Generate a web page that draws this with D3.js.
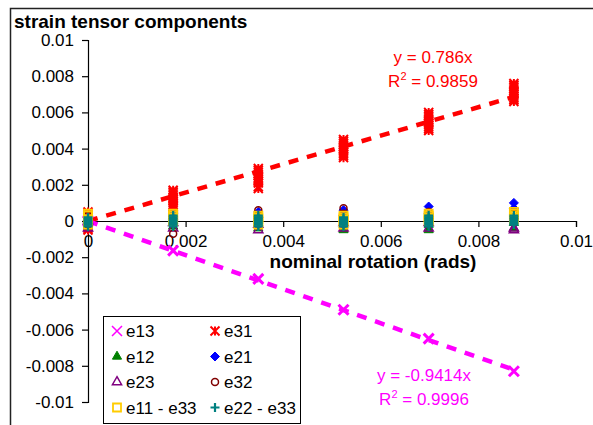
<!DOCTYPE html>
<html>
<head>
<meta charset="utf-8">
<script src="https://cdn.jsdelivr.net/npm/d3@7"></script>
<style>
  body { margin: 0; background: #fff; }
  text { font-family: "Liberation Sans", Arial, sans-serif; }
</style>
</head>
<body>
<div id="viz"></div>
<script>
// nominal rotations (rads)
const rotations = [0, 0.001745, 0.00349, 0.005236, 0.006981, 0.008727];

// measured values, one list per rotation
const e13 = [[0.0], [-0.00164], [-0.0032], [-0.0049], [-0.0065], [-0.0083]];
const e31 = [
  [0.0005, 0.0004, 0.0003, 0.0001, 0.0, -0.0001, -0.0003, -0.0004, -0.0005, 0.0002, -0.0002],
  [0.0017, 0.0016, 0.0015, 0.0013, 0.0012, 0.0011, 0.0010, 0.0009, 0.0008, 0.0014, 0.0007],
  [0.0029, 0.0028, 0.0027, 0.0026, 0.0024, 0.0023, 0.0022, 0.0021, 0.0019, 0.0018, 0.0025],
  [0.0044, 0.0043, 0.0042, 0.0041, 0.0040, 0.0039, 0.0038, 0.0037, 0.0036, 0.0035, 0.0045],
  [0.0059, 0.0058, 0.0057, 0.0056, 0.0055, 0.0054, 0.0053, 0.0052, 0.0051, 0.0050, 0.0060],
  [0.0076, 0.0075, 0.0074, 0.0073, 0.0072, 0.0071, 0.0070, 0.0069, 0.0068, 0.0067, 0.0066]
];
const e12 = [[-0.0003, 0.0001], [-0.0003, 0.0], [-0.0004, -0.0001], [-0.0005, -0.0002], [-0.0005, -0.0002], [-0.0004, -0.0001]];
const e21 = [[0.0002, -0.0001], [0.0004, 0.0001], [0.0005, 0.0002], [0.0006, 0.0003], [0.0008, 0.0004], [0.0010, 0.0007]];
const e23 = [[-0.0004, 0.0], [-0.0004, -0.0001], [-0.0005, -0.0002], [-0.0004, -0.0001], [-0.0004, -0.0001], [-0.0005, -0.0004]];
const e32 = [[0.0003, -0.0002], [-0.0007, 0.0002], [0.0006, 0.0003], [0.0007, 0.0004], [0.0005, 0.0002], [0.0004, 0.0001]];
const e11_e33 = [
  [0.0004, 0.0003, 0.0001, 0.0, -0.0002],
  [0.0004, 0.0003, 0.0002, 0.0001, 0.0],
  [0.0003, 0.0002, 0.0001, 0.0, -0.0002],
  [0.0003, 0.0002, 0.0001, 0.0, -0.0002],
  [0.0004, 0.0003, 0.0002, 0.0001, 0.0],
  [0.0005, 0.0004, 0.0003, 0.0002, 0.0001]
];
const e22_e33 = [
  [0.0002, 0.0001, 0.0, -0.0001, -0.0002, -0.0003],
  [0.0003, 0.0002, 0.0001, 0.0, -0.0001, -0.0002, -0.0003],
  [0.0003, 0.0002, 0.0001, 0.0, -0.0001, -0.0002, -0.0003],
  [0.0002, 0.0001, 0.0, -0.0001, -0.0002, -0.0003],
  [0.0003, 0.0002, 0.0001, 0.0, -0.0001, -0.0002, -0.0003],
  [0.0003, 0.0002, 0.0001, 0.0, -0.0001, -0.0002]
];

// linear trendlines (through origin)
const trendSlopes = {e31: 0.786, e13: -0.9414};
const trendR2 = {e31: 0.9859, e13: 0.9996};

const xTicks = [0, 0.002, 0.004, 0.006, 0.008, 0.01];
const xTickLabels = ["0", "0.002", "0.004", "0.006", "0.008", "0.01"];
const yTicks = [0.01, 0.008, 0.006, 0.004, 0.002, 0, -0.002, -0.004, -0.006, -0.008, -0.01];
const yTickLabels = ["0.01", "0.008", "0.006", "0.004", "0.002", "0", "-0.002", "-0.004", "-0.006", "-0.008", "-0.01"];

const width = 593, height = 425;

const x = d3.scaleLinear().domain([0, 0.01]).range([88, 576]);
const y = d3.scaleLinear().domain([-0.01, 0.01]).range([402, 40]);

const svg = d3.select("#viz").append("svg")
    .attr("width", width)
    .attr("height", height);

// chart frame (cropped on right and bottom)
svg.append("path")
    .attr("d", "M10.5,425 V8.5 H593")
    .attr("fill", "none")
    .attr("stroke", "#222")
    .attr("stroke-width", 1.5);

svg.append("text")
    .attr("x", 14).attr("y", 28)
    .attr("font-size", 19).attr("font-weight", "bold")
    .text("strain tensor components");

// axes
const yAxis = d3.axisLeft(y).tickValues(yTicks).tickSize(6)
    .tickFormat((d, i) => yTickLabels[i]);
const gy = svg.append("g").attr("transform", `translate(${x(0)},0)`).call(yAxis);
gy.selectAll("text").attr("font-size", 17).attr("fill", "#000").attr("x", -14);

const xAxis = d3.axisBottom(x).tickValues(xTicks).tickSize(6)
    .tickFormat((d, i) => xTickLabels[i]);
const gx = svg.append("g").attr("transform", `translate(0,${y(0)})`).call(xAxis);
gx.selectAll("text").attr("font-size", 17).attr("fill", "#000").attr("y", 14);

[gx, gy].forEach(g => {
  g.select(".domain").attr("stroke", "#000").attr("stroke-width", 1.2);
  g.selectAll(".tick line").attr("stroke", "#000").attr("stroke-width", 1.2);
});

svg.append("text")
    .attr("x", 373).attr("y", 268)
    .attr("text-anchor", "middle")
    .attr("font-size", 19).attr("font-weight", "bold")
    .text("nominal rotation (rads)");

// marker shapes
function markerPath(shape, s) {
  const h = s / 2;
  switch (shape) {
    case "x": return `M${-h},${-h}L${h},${h}M${-h},${h}L${h},${-h}`;
    case "star": return `M${-h},${-h}L${h},${h}M${-h},${h}L${h},${-h}M0,${-h}L0,${h}`;
    case "plus": return `M${-h},0L${h},0M0,${-h}L0,${h}`;
    case "triangle": return d3.symbol(d3.symbolTriangle, s * s * 0.45)();
    case "diamond": return `M0,${-h}L${h},0L0,${h}L${-h},0Z`;
    case "circle": return d3.symbol(d3.symbolCircle, s * s * 0.6)();
    case "square": return `M${-h},${-h}H${h}V${h}H${-h}Z`;
  }
}

const series = [
  {name: "e13", values: e13, color: "#ff00ff", shape: "x", fill: false, size: 10, sw: 3},
  {name: "e31", values: e31, color: "#ff0000", shape: "star", fill: false, size: 9, sw: 2},
  {name: "e12", values: e12, color: "#008000", shape: "triangle", fill: true, size: 9, sw: 1},
  {name: "e21", values: e21, color: "#0000ff", shape: "diamond", fill: true, size: 9, sw: 1},
  {name: "e23", values: e23, color: "#800080", shape: "triangle", fill: false, size: 9, sw: 1.5},
  {name: "e32", values: e32, color: "#800000", shape: "circle", fill: false, size: 8, sw: 1.5},
  {name: "e11 - e33", values: e11_e33, color: "#ffcc00", shape: "square", fill: false, size: 8, sw: 1.8},
  {name: "e22 - e33", values: e22_e33, color: "#008080", shape: "plus", fill: false, size: 9, sw: 2.2}
];

// trendlines
[["e31", "#ff0000"], ["e13", "#ff00ff"]].forEach(([k, c]) => {
  const xs = [0, d3.max(rotations)];
  svg.append("line")
      .attr("x1", x(xs[0])).attr("y1", y(trendSlopes[k] * xs[0]))
      .attr("x2", x(xs[1])).attr("y2", y(trendSlopes[k] * xs[1]))
      .attr("stroke", c).attr("stroke-width", 4.5)
      .attr("stroke-dasharray", "10,9");
});

// points
series.forEach(s => {
  const pts = [];
  s.values.forEach((vals, i) => vals.forEach(v => pts.push([rotations[i], v])));
  svg.append("g").selectAll("path")
    .data(pts)
    .enter().append("path")
      .attr("transform", d => `translate(${x(d[0])},${y(d[1])})`)
      .attr("d", markerPath(s.shape, s.size))
      .attr("fill", s.fill ? s.color : "none")
      .attr("stroke", s.color)
      .attr("stroke-width", s.sw);
});

// trendline labels
function eqLabel(cx, yb, color, eq, r2) {
  const g = svg.append("g").attr("fill", color).attr("font-size", 17);
  g.append("text").attr("x", cx).attr("y", yb).attr("text-anchor", "middle").text(eq);
  const t = g.append("text").attr("x", cx).attr("y", yb + 24).attr("text-anchor", "middle");
  t.append("tspan").text("R");
  t.append("tspan").attr("font-size", 11).attr("dy", -7).text("2");
  t.append("tspan").attr("dy", 7).text(" = " + r2);
}
eqLabel(433, 63, "#ff0000", `y = ${trendSlopes.e31}x`, trendR2.e31);
eqLabel(424, 381, "#ff00ff", `y = ${trendSlopes.e13}x`, trendR2.e13);

// legend
const legend = svg.append("g");
legend.append("rect")
    .attr("x", 103.5).attr("y", 316.5)
    .attr("width", 197).attr("height", 107)
    .attr("fill", "#fff").attr("stroke", "#000").attr("stroke-width", 1);

series.forEach((s, i) => {
  const col = i % 2, row = Math.floor(i / 2);
  const lx = 117 + col * 98, ly = 331 + row * 25.5;
  legend.append("path")
      .attr("transform", `translate(${lx},${ly})`)
      .attr("d", markerPath(s.shape, s.size))
      .attr("fill", s.fill ? s.color : "none")
      .attr("stroke", s.color)
      .attr("stroke-width", s.shape === "x" ? 1.5 : s.sw);
  legend.append("text")
      .attr("x", lx + 9).attr("y", ly + 6)
      .attr("font-size", 17)
      .text(s.name);
});
</script>
</body>
</html>
